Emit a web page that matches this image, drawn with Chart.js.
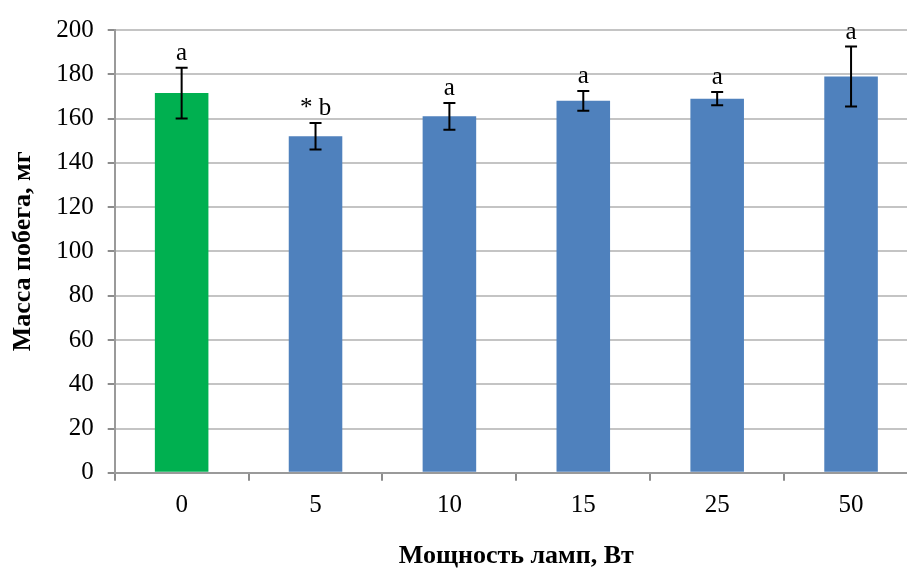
<!DOCTYPE html>
<html><head><meta charset="utf-8">
<script src="https://cdn.jsdelivr.net/npm/chart.js@4/dist/chart.umd.min.js"></script>
<style>html,body{margin:0;padding:0;background:#fff;overflow:hidden;}#wrap{width:918px;height:570px;}</style>
</head><body><div id="wrap"><canvas id="c" width="918" height="570"></canvas></div>
<script>
const categories = ['0','5','10','15','25','50'];
const values = [171.5, 152, 161, 168, 169, 179];
const errors = [11.5, 6, 6, 4.5, 3, 13.5];
const marks = ['a','* b','a','a','a','a'];
const barColors = ['#00B050','#4F81BD','#4F81BD','#4F81BD','#4F81BD','#4F81BD'];

const errPlugin = {
  id:'err',
  afterDatasetsDraw(chart){
    const ctx = chart.ctx, y = chart.scales.y, meta = chart.getDatasetMeta(0);
    ctx.save();
    ctx.strokeStyle = '#000'; ctx.lineWidth = 2;
    meta.data.forEach((bar,i)=>{
      const x = bar.x;
      const yt = y.getPixelForValue(values[i]+errors[i]);
      const yb = y.getPixelForValue(values[i]-errors[i]);
      ctx.beginPath();
      ctx.moveTo(x,yt); ctx.lineTo(x,yb);
      ctx.moveTo(x-6,yt); ctx.lineTo(x+6,yt);
      ctx.moveTo(x-6,yb); ctx.lineTo(x+6,yb);
      ctx.stroke();
      ctx.fillStyle='#000';
      ctx.font = '25px "Liberation Serif", "Times New Roman", serif';
      ctx.textAlign='center'; ctx.textBaseline='alphabetic';
      ctx.fillText(marks[i], x, yt-8);
    });
    ctx.restore();
  }
};

new Chart(document.getElementById('c'), {
  type:'bar',
  data:{labels:categories, datasets:[{data:values, backgroundColor:barColors, barPercentage:0.8, categoryPercentage:0.5}]},
  options:{
    responsive:false, animation:false, devicePixelRatio:1,
    layout:{padding:{top:30,right:0,left:8,bottom:0}},
    plugins:{legend:{display:false}, tooltip:{enabled:false}},
    scales:{
      x:{
        grid:{display:true, drawOnChartArea:false, offset:true, tickLength:8, color:'#8c8c8c', lineWidth:2},
        border:{color:'#9a9a9a', width:2},
        ticks:{color:'#000', padding:10, font:{family:'"Liberation Serif"', size:25}},
        title:{display:true, text:'Мощность ламп, Вт', color:'#000', padding:{top:10,bottom:-2}, font:{family:'"Liberation Serif"', size:26, weight:'bold'}}
      },
      y:{
        min:0, max:200,
        grid:{color:'#c4c4c4', lineWidth:2, tickColor:'#8c8c8c', tickLength:7},
        border:{color:'#9a9a9a', width:2},
        ticks:{stepSize:20, color:'#000', padding:14, font:{family:'"Liberation Serif"', size:25}},
        title:{display:true, text:'Масса побега, мг', color:'#000', padding:{top:0,bottom:3}, font:{family:'"Liberation Serif"', size:26, weight:'bold'}}
      }
    }
  },
  plugins:[errPlugin]
});
</script></body></html>
